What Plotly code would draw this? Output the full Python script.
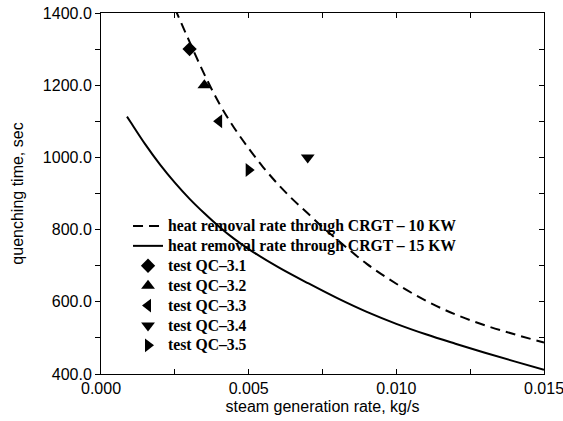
import plotly.graph_objects as go

# ---- data ----
x_10kw = [0.0025, 0.003, 0.0035, 0.004, 0.0045, 0.005, 0.0055, 0.006, 0.0065, 0.007,
          0.0075, 0.008, 0.009, 0.010, 0.011, 0.012, 0.013, 0.014, 0.015]
y_10kw = [1413, 1320, 1230, 1150, 1083, 1025, 972, 925, 883, 845,
          807, 772, 705, 650, 603, 565, 535, 510, 487]

x_15kw = [0.00088, 0.001, 0.0015, 0.002, 0.0025, 0.003, 0.0035, 0.004, 0.0045, 0.005,
          0.006, 0.007, 0.008, 0.009, 0.010, 0.011, 0.012, 0.013, 0.014, 0.015]
y_15kw = [1113, 1098, 1036, 980, 930, 885, 845, 808, 775, 746,
          696, 652, 610, 572, 539, 510, 484, 459, 435, 412]

test_names = ["test QC\u20133.1", "test QC\u20133.2", "test QC\u20133.3", "test QC\u20133.4", "test QC\u20133.5"]
test_x = [0.0030, 0.0035, 0.0040, 0.0070, 0.0050]
test_y = [1300, 1200, 1100, 1000, 965]
test_symbols = ["diamond", "triangle-up", "triangle-left", "triangle-down", "triangle-right"]
test_sizes = [11, 12, 12, 12, 12]

curve_names = ["heat removal rate through CRGT \u2013 10 KW", "heat removal rate through CRGT \u2013 15 KW"]

LEG = "<span style='font-size:15.7px'>%s</span>"

fig = go.Figure()
fig.add_trace(go.Scatter(x=x_10kw, y=y_10kw, mode="lines", name=LEG % curve_names[0],
                         line=dict(color="black", width=2, dash="10px,6px", shape="spline")))
fig.add_trace(go.Scatter(x=x_15kw, y=y_15kw, mode="lines", name=LEG % curve_names[1],
                         line=dict(color="black", width=2, shape="spline")))
for nm, xv, yv, sym, sz in zip(test_names, test_x, test_y, test_symbols, test_sizes):
    fig.add_trace(go.Scatter(x=[xv], y=[yv], mode="markers", name=LEG % nm,
                             marker=dict(symbol=sym, size=sz, color="black")))
# empty trace to create right-side axis with inside ticks
fig.add_trace(go.Scatter(x=[], y=[], yaxis="y2", showlegend=False, hoverinfo="skip"))

tickfont = dict(family="Liberation Sans, Arial, sans-serif", size=16, color="black")

fig.update_layout(
    width=563, height=421,
    margin=dict(l=101, r=19, t=13, b=47),
    paper_bgcolor="white", plot_bgcolor="white",
    showlegend=True,
    legend=dict(x=0.061, y=0.4515, xanchor="left", yanchor="top",
                bgcolor="rgba(0,0,0,0)", borderwidth=0,
                font=dict(family="Liberation Serif, Times New Roman, serif", size=13,
                          color="black", weight="bold"),
                itemwidth=30, tracegroupgap=0),
    xaxis=dict(range=[0, 0.015], dtick=0.005, tick0=0, tickformat=".3f",
               ticks="inside", ticklen=5, tickcolor="black", tickwidth=1,
               minor=dict(dtick=0.0025, ticks="inside", ticklen=5, tickcolor="black"),
               showline=True, linecolor="black", linewidth=1, mirror="allticks",
               showgrid=False, zeroline=False, tickfont=tickfont, automargin=False,
               ticklabeloverflow="allow",
               title=dict(text="steam generation rate, kg/s", font=tickfont, standoff=4)),
    yaxis=dict(range=[400, 1400], dtick=200, tick0=400, tickformat=".1f",
               ticks="outside", ticklen=5, tickcolor="black", tickwidth=1,
               minor=dict(dtick=100, ticks="outside", ticklen=5, tickcolor="black"),
               showline=True, linecolor="black", linewidth=1,
               showgrid=False, zeroline=False, tickfont=tickfont, automargin=False,
               ticklabeloverflow="allow",
               title=dict(text="quenching time, sec", font=tickfont, standoff=15)),
    yaxis2=dict(range=[400, 1400], dtick=100, tick0=400, overlaying="y", side="right",
                ticks="inside", ticklen=5, tickcolor="black", showticklabels=False,
                showline=True, linecolor="black", linewidth=1, showgrid=False,
                zeroline=False, automargin=False),
)

fig.write_html("out.html")
